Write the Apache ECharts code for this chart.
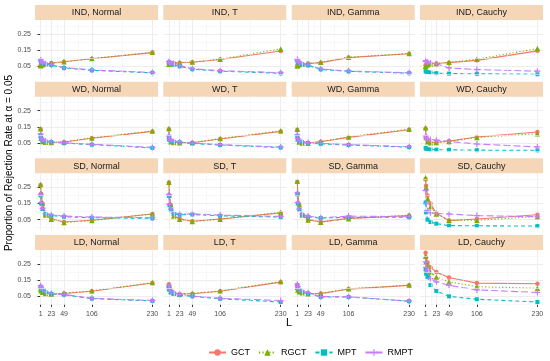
<!DOCTYPE html>
<html><head><meta charset="utf-8">
<script src="https://cdn.jsdelivr.net/npm/echarts@6/dist/echarts.min.js"></script>
<style>html,body{margin:0;padding:0;background:#fff}#c{width:550px;height:361px}</style>
</head><body><div id="c"></div>
<script>
// ---- data ----
const L = [1, 2, 5, 11, 23, 49, 106, 230];
const xTicks = [1, 23, 49, 106, 230];
const yTicks = [0.05, 0.15, 0.25];
const xMinor = [12, 36, 77.5, 168];
const yMinor = [0.0, 0.1, 0.2, 0.3];
const dependence = ['IND', 'WD', 'SD', 'LD'];
const distributions = ['Normal', 'T', 'Gamma', 'Cauchy'];
const methods = ['GCT', 'RGCT', 'MPT', 'RMPT'];

// each: [Normal, T, Gamma, Cauchy], values at L
const GCT_IND = [
  [0.055, 0.058, 0.062, 0.065, 0.070, 0.078, 0.097, 0.135],
  [0.065, 0.065, 0.068, 0.070, 0.072, 0.075, 0.092, 0.145],
  [0.055, 0.058, 0.062, 0.065, 0.067, 0.073, 0.104, 0.128],
  [0.056, 0.060, 0.064, 0.067, 0.068, 0.073, 0.087, 0.146]];
const RGCT_IND = [
  [0.053, 0.057, 0.062, 0.066, 0.071, 0.079, 0.098, 0.137],
  [0.063, 0.064, 0.067, 0.070, 0.073, 0.077, 0.094, 0.158],
  [0.052, 0.056, 0.061, 0.065, 0.068, 0.075, 0.106, 0.130],
  [0.050, 0.055, 0.060, 0.065, 0.068, 0.075, 0.094, 0.160]];
const MPT_IND = [
  [0.085, 0.078, 0.070, 0.065, 0.058, 0.040, 0.025, 0.010],
  [0.075, 0.070, 0.065, 0.060, 0.050, 0.032, 0.020, 0.007],
  [0.085, 0.078, 0.070, 0.062, 0.056, 0.031, 0.019, 0.008],
  [0.020, 0.018, 0.015, 0.012, 0.008, 0.005, 0.004, 0.001]];
const RMPT_IND = [
  [0.090, 0.082, 0.073, 0.066, 0.060, 0.042, 0.028, 0.012],
  [0.080, 0.076, 0.070, 0.064, 0.055, 0.035, 0.023, 0.011],
  [0.092, 0.084, 0.074, 0.065, 0.058, 0.034, 0.021, 0.010],
  [0.085, 0.080, 0.075, 0.070, 0.066, 0.040, 0.030, 0.020]];

const GCT_WD = [
  [0.135, 0.085, 0.062, 0.057, 0.055, 0.056, 0.080, 0.122],
  [0.135, 0.080, 0.060, 0.055, 0.053, 0.052, 0.075, 0.122],
  [0.130, 0.080, 0.058, 0.052, 0.050, 0.058, 0.085, 0.132],
  [0.140, 0.090, 0.062, 0.055, 0.055, 0.062, 0.087, 0.118]];
const RGCT_WD = [
  [0.138, 0.080, 0.060, 0.055, 0.054, 0.057, 0.082, 0.125],
  [0.140, 0.078, 0.058, 0.054, 0.052, 0.053, 0.078, 0.126],
  [0.135, 0.076, 0.056, 0.050, 0.049, 0.060, 0.088, 0.136],
  [0.145, 0.085, 0.058, 0.052, 0.053, 0.060, 0.085, 0.108]];
const MPT_WD = [
  [0.100, 0.078, 0.066, 0.060, 0.056, 0.050, 0.040, 0.020],
  [0.090, 0.070, 0.062, 0.058, 0.055, 0.048, 0.038, 0.022],
  [0.095, 0.075, 0.060, 0.055, 0.050, 0.045, 0.038, 0.025],
  [0.020, 0.015, 0.012, 0.010, 0.009, 0.008, 0.006, 0.005]];
const RMPT_WD = [
  [0.105, 0.082, 0.070, 0.063, 0.058, 0.052, 0.042, 0.023],
  [0.095, 0.075, 0.066, 0.060, 0.057, 0.050, 0.040, 0.025],
  [0.100, 0.078, 0.063, 0.058, 0.053, 0.048, 0.040, 0.027],
  [0.095, 0.082, 0.075, 0.072, 0.068, 0.060, 0.044, 0.026]];

const GCT_SD = [
  [0.265, 0.210, 0.150, 0.080, 0.055, 0.035, 0.046, 0.085],
  [0.280, 0.200, 0.140, 0.075, 0.055, 0.040, 0.054, 0.092],
  [0.285, 0.210, 0.140, 0.080, 0.050, 0.036, 0.058, 0.075],
  [0.300, 0.260, 0.200, 0.150, 0.090, 0.044, 0.054, 0.080]];
const RGCT_SD = [
  [0.268, 0.212, 0.152, 0.078, 0.053, 0.033, 0.044, 0.086],
  [0.282, 0.202, 0.142, 0.073, 0.053, 0.038, 0.052, 0.095],
  [0.288, 0.212, 0.142, 0.078, 0.048, 0.034, 0.056, 0.078],
  [0.310, 0.250, 0.180, 0.130, 0.085, 0.046, 0.046, 0.070]];
const MPT_SD = [
  [0.200, 0.150, 0.115, 0.085, 0.075, 0.068, 0.062, 0.058],
  [0.200, 0.140, 0.110, 0.085, 0.080, 0.082, 0.074, 0.066],
  [0.210, 0.150, 0.110, 0.080, 0.068, 0.060, 0.065, 0.065],
  [0.156, 0.095, 0.050, 0.035, 0.025, 0.013, 0.012, 0.010]];
const RMPT_SD = [
  [0.205, 0.155, 0.120, 0.088, 0.080, 0.072, 0.066, 0.062],
  [0.205, 0.145, 0.115, 0.090, 0.085, 0.086, 0.078, 0.070],
  [0.215, 0.155, 0.115, 0.085, 0.072, 0.062, 0.072, 0.068],
  [0.230, 0.150, 0.105, 0.092, 0.088, 0.085, 0.075, 0.068]];

const GCT_LD = [
  [0.100, 0.090, 0.080, 0.070, 0.063, 0.068, 0.082, 0.133],
  [0.125, 0.105, 0.085, 0.072, 0.065, 0.066, 0.082, 0.138],
  [0.110, 0.095, 0.082, 0.074, 0.068, 0.067, 0.095, 0.118],
  [0.320, 0.290, 0.260, 0.230, 0.200, 0.167, 0.132, 0.128]];
const RGCT_LD = [
  [0.095, 0.085, 0.076, 0.068, 0.064, 0.070, 0.084, 0.135],
  [0.120, 0.100, 0.080, 0.070, 0.063, 0.068, 0.084, 0.142],
  [0.105, 0.090, 0.078, 0.072, 0.066, 0.068, 0.097, 0.120],
  [0.300, 0.265, 0.240, 0.200, 0.170, 0.140, 0.110, 0.100]];
const MPT_LD = [
  [0.110, 0.100, 0.088, 0.076, 0.066, 0.060, 0.036, 0.022],
  [0.105, 0.090, 0.075, 0.065, 0.058, 0.050, 0.035, 0.015],
  [0.120, 0.105, 0.090, 0.078, 0.068, 0.046, 0.046, 0.020],
  [0.216, 0.190, 0.170, 0.120, 0.083, 0.050, 0.032, 0.015]];
const RMPT_LD = [
  [0.115, 0.105, 0.092, 0.080, 0.068, 0.062, 0.038, 0.024],
  [0.115, 0.098, 0.082, 0.070, 0.062, 0.052, 0.038, 0.024],
  [0.125, 0.110, 0.095, 0.082, 0.072, 0.048, 0.048, 0.020],
  [0.264, 0.230, 0.210, 0.160, 0.140, 0.118, 0.090, 0.074]];

const dataByMethod = {
  GCT: [GCT_IND, GCT_WD, GCT_SD, GCT_LD],
  RGCT: [RGCT_IND, RGCT_WD, RGCT_SD, RGCT_LD],
  MPT: [MPT_IND, MPT_WD, MPT_SD, MPT_LD],
  RMPT: [RMPT_IND, RMPT_WD, RMPT_SD, RMPT_LD]
};

// ---- styles / layout ----
const FONT = '"Liberation Sans", Arial, Helvetica, sans-serif';
const colLeft = [35, 163.3, 291.7, 420];
const rowTop = [20, 96.7, 173.3, 250];
const PW = 123, PH = 57, STRIP = 15;
const XMIN = -10.45, XMAX = 241.45, YMIN = -0.016, YMAX = 0.337;
const plusPath = 'path://M4,0H6V4H10V6H6V10H4V6H0V4H4Z';
const mStyle = {
  GCT: { color: '#F8766D', symbol: 'circle', size: 4.5, type: 'solid' },
  RGCT: { color: '#7CAE00', symbol: 'triangle', size: 5.5, type: [1.2, 2.2] },
  MPT: { color: '#00BFC4', symbol: 'rect', size: 4, type: [4, 3] },
  RMPT: { color: '#C77CFF', symbol: plusPath, size: 6, type: [7, 3] }
};

const grids = [], xAxes = [], yAxes = [], series = [], graphics = [];
let idx = 0;
for (let r = 0; r < 4; r++) {
  for (let c = 0; c < 4; c++) {
    grids.push({ left: colLeft[c], top: rowTop[r], width: PW, height: PH, containLabel: false });
    const showX = r === 3, showY = c === 0;
    xAxes.push({
      gridIndex: idx, type: 'value', min: XMIN, max: XMAX,
      axisLine: { show: false },
      axisTick: { show: showX, customValues: xTicks, length: 2.5, lineStyle: { color: '#333', width: 1 } },
      axisLabel: { show: showX, customValues: xTicks, fontSize: 7, color: '#4D4D4D', fontFamily: FONT, margin: 4 },
      splitLine: { show: true, lineStyle: { color: '#EBEBEB', width: 0.9 } }
    });
    yAxes.push({
      gridIndex: idx, type: 'value', min: YMIN, max: YMAX,
      axisLine: { show: false },
      axisTick: { show: showY, customValues: yTicks, length: 2.5, lineStyle: { color: '#333', width: 1 } },
      axisLabel: { show: showY, customValues: yTicks, fontSize: 7, color: '#4D4D4D', fontFamily: FONT, margin: 4,
        formatter: v => v.toFixed(2) },
      splitLine: { show: true, lineStyle: { color: '#EBEBEB', width: 0.9 } }
    });
    // minor grid lines
    series.push({
      type: 'line', xAxisIndex: idx, yAxisIndex: idx, data: [], silent: true, z: 0,
      markLine: {
        silent: true, symbol: ['none', 'none'], label: { show: false }, animation: false,
        lineStyle: { color: '#F3F3F3', width: 0.6, type: 'solid' },
        data: xMinor.map(v => ({ xAxis: v })).concat(yMinor.map(v => ({ yAxis: v })))
      }
    });
    methods.forEach(m => {
      const s = mStyle[m];
      const vals = dataByMethod[m][r][c];
      series.push({
        name: m, type: 'line', xAxisIndex: idx, yAxisIndex: idx, z: 2,
        data: L.map((x, i) => [x, vals[i]]),
        symbol: s.symbol, symbolSize: s.size, showSymbol: true,
        itemStyle: { color: s.color },
        lineStyle: { color: s.color, width: 1.1, type: s.type },
        emphasis: { disabled: true }, animation: false
      });
    });
    // strip
    graphics.push({
      type: 'group', left: colLeft[c], top: rowTop[r] - STRIP,
      children: [
        { type: 'rect', shape: { x: 0, y: 0, width: PW, height: STRIP }, style: { fill: '#F5D6B6' } },
        { type: 'text', x: PW / 2, y: STRIP / 2 + 0.5,
          style: { text: dependence[r] + ', ' + distributions[c], fill: '#1A1A1A', font: '9px ' + FONT,
            textAlign: 'center', textVerticalAlign: 'middle' } }
      ]
    });
    idx++;
  }
}
// axis titles
graphics.push({ type: 'text', left: 'center', x: 0, style: {} });
graphics.pop();
graphics.push({
  type: 'text', x: 289, y: 323,
  style: { text: 'L', fill: '#000', font: '11px ' + FONT, textAlign: 'center', textVerticalAlign: 'middle' }
});
graphics.push({
  type: 'text', x: 9, y: 163, rotation: Math.PI / 2,
  style: { text: 'Proportion of Rejection Rate at \u03b1 = 0.05', fill: '#000', font: '10px ' + FONT,
    textAlign: 'center', textVerticalAlign: 'middle' }
});

const chart = echarts.init(document.getElementById('c'), null, { renderer: 'canvas' });
chart.setOption({
  animation: false,
  backgroundColor: '#fff',
  grid: grids, xAxis: xAxes, yAxis: yAxes, series: series,
  graphic: graphics,
  legend: {
    data: methods, left: 203, top: 343, itemWidth: 17, itemHeight: 8, itemGap: 8,
    textStyle: { fontSize: 9, color: '#000', fontFamily: FONT, padding: [0, 0, 0, 0] },
    icon: undefined
  }
});
</script></body></html>
